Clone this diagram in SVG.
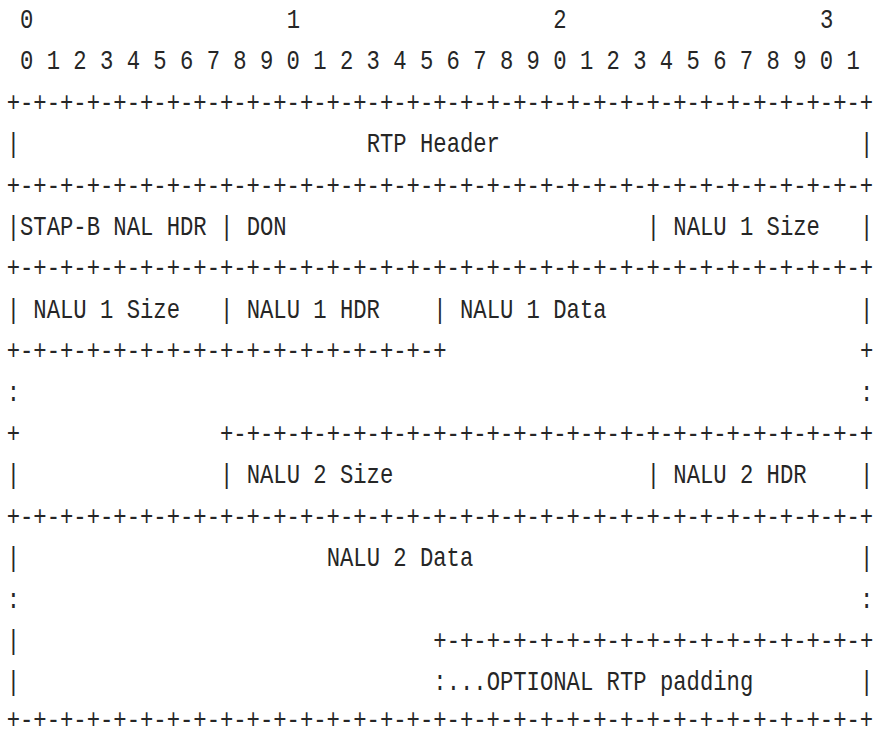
<svg xmlns="http://www.w3.org/2000/svg" width="873" height="734" viewBox="0 0 873 734">
<style>
text{font-family:"Liberation Mono","DejaVu Sans Mono",monospace;font-size:27px;fill:#262626;white-space:pre}
</style>
<rect width="873" height="734" fill="#ffffff"/>
<g transform="translate(6.67,0) scale(0.823,1)">
<g id="ruler">
<text x="16.2" y="28">0</text><text x="340.2" y="28">1</text><text x="664.2" y="28">2</text><text x="988.2" y="28">3</text>
<text x="16.2" y="69.4">0 1 2 3 4 5 6 7 8 9 0 1 2 3 4 5 6 7 8 9 0 1 2 3 4 5 6 7 8 9 0 1</text>
</g>
<g id="connectors">
<text x="0" y="110.8">+-+-+-+-+-+-+-+-+-+-+-+-+-+-+-+-+-+-+-+-+-+-+-+-+-+-+-+-+-+-+-+-+</text>
<text x="0" y="193.6">+-+-+-+-+-+-+-+-+-+-+-+-+-+-+-+-+-+-+-+-+-+-+-+-+-+-+-+-+-+-+-+-+</text>
<text x="0" y="276.4">+-+-+-+-+-+-+-+-+-+-+-+-+-+-+-+-+-+-+-+-+-+-+-+-+-+-+-+-+-+-+-+-+</text>
<text x="0" y="359.2">+-+-+-+-+-+-+-+-+-+-+-+-+-+-+-+-+</text><text x="1036.8" y="359.2">+</text>
<text x="0" y="400.6">:</text><text x="1036.8" y="400.6">:</text>
<text x="0" y="442">+</text><text x="259.2" y="442">+-+-+-+-+-+-+-+-+-+-+-+-+-+-+-+-+-+-+-+-+-+-+-+-+</text>
<text x="0" y="524.8">+-+-+-+-+-+-+-+-+-+-+-+-+-+-+-+-+-+-+-+-+-+-+-+-+-+-+-+-+-+-+-+-+</text>
<text x="0" y="607.6">:</text><text x="1036.8" y="607.6">:</text>
<text x="518.4" y="649">+-+-+-+-+-+-+-+-+-+-+-+-+-+-+-+-+</text>
<text x="0" y="728.5">+-+-+-+-+-+-+-+-+-+-+-+-+-+-+-+-+-+-+-+-+-+-+-+-+-+-+-+-+-+-+-+-+</text>
</g>
<g id="rtp-header">
<text x="0" y="152.2">|</text><text x="437.4" y="152.2">RTP Header</text><text x="1036.8" y="152.2">|</text>
</g>
<g id="stap-b-row">
<text x="0" y="235">|STAP-B NAL HDR |</text><text x="291.6" y="235">DON</text><text x="777.6" y="235">|</text><text x="810" y="235">NALU 1 Size</text><text x="1036.8" y="235">|</text>
</g>
<g id="nalu1-row">
<text x="0" y="317.8">|</text><text x="32.4" y="317.8">NALU 1 Size</text><text x="259.2" y="317.8">|</text><text x="291.6" y="317.8">NALU 1 HDR</text><text x="518.4" y="317.8">|</text><text x="550.8" y="317.8">NALU 1 Data</text><text x="1036.8" y="317.8">|</text>
</g>
<g id="nalu2-row">
<text x="0" y="483.4">|</text><text x="259.2" y="483.4">|</text><text x="291.6" y="483.4">NALU 2 Size</text><text x="777.6" y="483.4">|</text><text x="810" y="483.4">NALU 2 HDR</text><text x="1036.8" y="483.4">|</text>
</g>
<g id="nalu2-data">
<text x="0" y="566.2">|</text><text x="388.8" y="566.2">NALU 2 Data</text><text x="1036.8" y="566.2">|</text>
<text x="0" y="649">|</text>
</g>
<g id="padding">
<text x="0" y="690.4">|</text><text x="518.4" y="690.4">:...OPTIONAL RTP padding</text><text x="1036.8" y="690.4">|</text>
</g>
</g>
</svg>
